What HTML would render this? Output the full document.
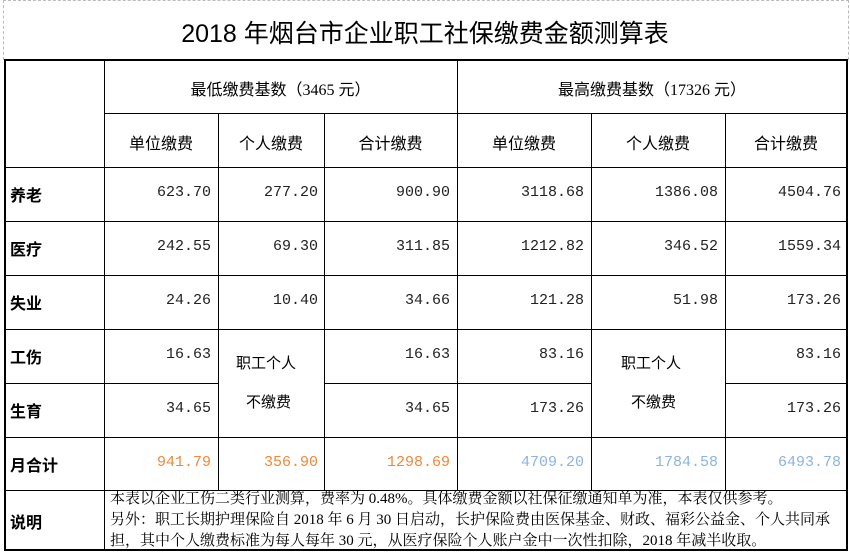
<!DOCTYPE html>
<html><head><meta charset="utf-8"><style>
body{margin:0;background:#fff;width:850px;height:555px;overflow:hidden;position:relative;font-family:"Liberation Serif","Noto Serif CJK SC",serif;}
.t{position:absolute;white-space:nowrap;}
.h{position:absolute;background:#000;height:1px;}
.v{position:absolute;background:#000;width:1px;}
.n{position:absolute;font-family:"Liberation Mono","Noto Sans CJK SC",monospace;font-size:15px;text-align:right;color:#222;}
.c{position:absolute;text-align:center;font-size:16px;font-family:"Liberation Serif","Noto Sans CJK SC",sans-serif;}
.l{position:absolute;left:10px;font-size:16px;font-weight:bold;font-family:"Liberation Sans","Noto Sans CJK SC",sans-serif;}
</style></head><body>
<div style="position:absolute;left:3px;top:0;width:844px;height:59px;border-left:1px dashed #bbb;border-right:1px dashed #bbb;border-top:1px dashed #bbb"></div>
<div class="t" style="left:0;width:850px;top:14px;text-align:center;font-size:25px;font-family:'Liberation Sans','Noto Sans CJK SC',sans-serif;">2018 年烟台市企业职工社保缴费金额测算表</div>
<div class="h" style="left:4px;top:59px;width:843px;height:2px"></div>
<div class="h" style="left:104px;top:113px;width:743px"></div>
<div class="h" style="left:4px;top:167px;width:843px"></div>
<div class="h" style="left:4px;top:221px;width:843px"></div>
<div class="h" style="left:4px;top:275px;width:843px"></div>
<div class="h" style="left:4px;top:329px;width:843px"></div>
<div class="h" style="left:4px;top:383px;width:214px"></div>
<div class="h" style="left:324px;top:383px;width:267px"></div>
<div class="h" style="left:725px;top:383px;width:122px"></div>
<div class="h" style="left:4px;top:437px;width:843px"></div>
<div class="h" style="left:4px;top:490px;width:843px"></div>
<div class="h" style="left:4px;top:549px;width:843px;height:2px"></div>
<div class="v" style="left:4px;top:59px;height:492px;width:2px"></div>
<div class="v" style="left:846px;top:59px;height:492px;width:2px"></div>
<div class="v" style="left:104px;top:59px;height:492px"></div>
<div class="v" style="left:457px;top:59px;height:432px"></div>
<div class="v" style="left:218px;top:113px;height:377px"></div>
<div class="v" style="left:324px;top:113px;height:377px"></div>
<div class="v" style="left:591px;top:113px;height:377px"></div>
<div class="v" style="left:725px;top:113px;height:377px"></div>
<div class="c" style="left:104px;width:353px;top:76px;font-size:16px">最低缴费基数（3465 元）</div>
<div class="c" style="left:457px;width:390px;top:76px;font-size:16px">最高缴费基数（17326 元）</div>
<div class="c" style="left:104px;width:114px;top:130px">单位缴费</div>
<div class="c" style="left:218px;width:106px;top:130px">个人缴费</div>
<div class="c" style="left:324px;width:133px;top:130px">合计缴费</div>
<div class="c" style="left:457px;width:134px;top:130px">单位缴费</div>
<div class="c" style="left:591px;width:134px;top:130px">个人缴费</div>
<div class="c" style="left:725px;width:122px;top:130px">合计缴费</div>
<div class="l" style="top:182px">养老</div>
<div class="l" style="top:236px">医疗</div>
<div class="l" style="top:290px">失业</div>
<div class="l" style="top:344px">工伤</div>
<div class="l" style="top:398px">生育</div>
<div class="l" style="top:452px">月合计</div>
<div class="l" style="top:509px">说明</div>
<div class="n" style="right:639px;top:184px">623.70</div>
<div class="n" style="right:532px;top:184px">277.20</div>
<div class="n" style="right:400px;top:184px">900.90</div>
<div class="n" style="right:266px;top:184px">3118.68</div>
<div class="n" style="right:132px;top:184px">1386.08</div>
<div class="n" style="right:9px;top:184px">4504.76</div>
<div class="n" style="right:639px;top:238px">242.55</div>
<div class="n" style="right:532px;top:238px">69.30</div>
<div class="n" style="right:400px;top:238px">311.85</div>
<div class="n" style="right:266px;top:238px">1212.82</div>
<div class="n" style="right:132px;top:238px">346.52</div>
<div class="n" style="right:9px;top:238px">1559.34</div>
<div class="n" style="right:639px;top:292px">24.26</div>
<div class="n" style="right:532px;top:292px">10.40</div>
<div class="n" style="right:400px;top:292px">34.66</div>
<div class="n" style="right:266px;top:292px">121.28</div>
<div class="n" style="right:132px;top:292px">51.98</div>
<div class="n" style="right:9px;top:292px">173.26</div>
<div class="n" style="right:639px;top:346px">16.63</div>
<div class="n" style="right:400px;top:346px">16.63</div>
<div class="n" style="right:266px;top:346px">83.16</div>
<div class="n" style="right:9px;top:346px">83.16</div>
<div class="n" style="right:639px;top:400px">34.65</div>
<div class="n" style="right:400px;top:400px">34.65</div>
<div class="n" style="right:266px;top:400px">173.26</div>
<div class="n" style="right:9px;top:400px">173.26</div>
<div class="n" style="right:639px;top:454px;color:#f0883a">941.79</div>
<div class="n" style="right:532px;top:454px;color:#f0883a">356.90</div>
<div class="n" style="right:400px;top:454px;color:#f0883a">1298.69</div>
<div class="n" style="right:266px;top:454px;color:#8db3e2">4709.20</div>
<div class="n" style="right:132px;top:454px;color:#8db3e2">1784.58</div>
<div class="n" style="right:9px;top:454px;color:#8db3e2">6493.78</div>
<div class="t" style="left:236px;top:352px;font-size:15px;font-family:'Liberation Sans','Noto Sans CJK SC',sans-serif">职工个人</div>
<div class="t" style="left:246px;top:391px;font-size:15px;font-family:'Liberation Sans','Noto Sans CJK SC',sans-serif">不缴费</div>
<div class="t" style="left:621px;top:352px;font-size:15px;font-family:'Liberation Sans','Noto Sans CJK SC',sans-serif">职工个人</div>
<div class="t" style="left:631px;top:391px;font-size:15px;font-family:'Liberation Sans','Noto Sans CJK SC',sans-serif">不缴费</div>
<div class="t" style="left:110px;top:489px;font-size:15px;line-height:21px;font-family:'Liberation Serif','Noto Serif CJK SC',serif">本表以企业工伤二类行业测算，费率为 0.48%。具体缴费金额以社保征缴通知单为准，本表仅供参考。<br>另外：职工长期护理保险自 2018 年 6 月 30 日启动，长护保险费由医保基金、财政、福彩公益金、个人共同承<br>担，其中个人缴费标准为每人每年 30 元，从医疗保险个人账户金中一次性扣除，2018 年减半收取。</div>
</body></html>
